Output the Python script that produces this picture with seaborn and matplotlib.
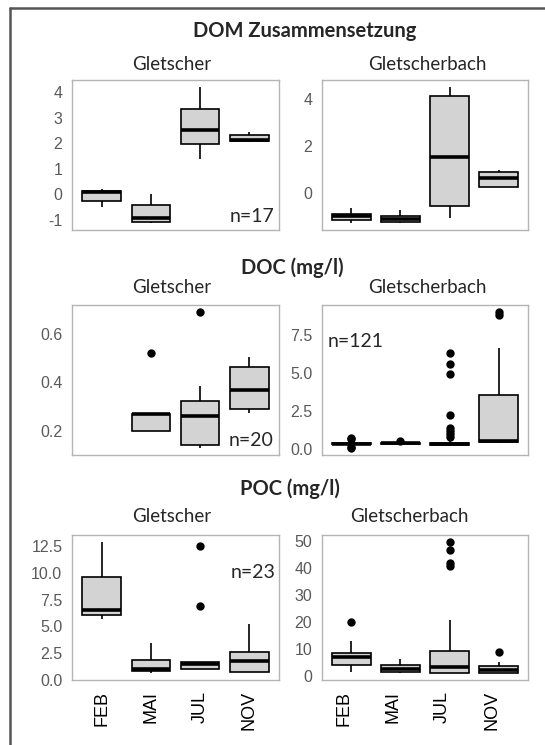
import matplotlib
matplotlib.use("Agg")
import matplotlib.pyplot as plt
import matplotlib.transforms as mtransforms
import seaborn as sns
import pandas as pd

# ---------------- data ----------------
months = ["FEB", "MAI", "JUL", "NOV"]

row_titles = ["DOM Zusammensetzung", "DOC (mg/l)", "POC (mg/l)"]
col_titles = ["Gletscher", "Gletscherbach"]
n_labels = ["n=17", "n=20", "n=121", "n=23"]

dom_gletscher = {
    "FEB": [-0.49, -0.27, 0.07, 0.13, 0.20],
    "MAI": [-1.13, -1.07, -0.92, -0.43, 0.01],
    "JUL": [1.37, 1.95, 2.50, 3.35, 4.20],
    "NOV": [2.05, 2.07, 2.13, 2.31, 2.44],
}
dom_bach = {
    "FEB": [-1.29, -1.19, -1.02, -0.90, -0.68],
    "MAI": [-1.31, -1.27, -1.12, -0.99, -0.76],
    "JUL": [-1.09, -0.57, 1.50, 4.12, 4.52],
    "NOV": [0.23, 0.23, 0.63, 0.89, 0.95],
}
doc_gletscher = {
    "FEB": [],
    "MAI": [0.20, 0.20, 0.27, 0.27, 0.52],
    "JUL": [0.127, 0.135, 0.141, 0.20, 0.259, 0.29, 0.321, 0.384, 0.693],
    "NOV": [0.273, 0.29, 0.367, 0.466, 0.506],
}
doc_bach = {
    "FEB": [0.05, 0.10, 0.20, 0.30, 0.32, 0.34, 0.35, 0.38, 0.40, 0.42, 0.55, 0.65, 0.70],
    "MAI": [0.30, 0.35, 0.40, 0.42, 0.55],
    "JUL": [0.20, 0.21, 0.22, 0.22, 0.23, 0.23, 0.24, 0.24, 0.25, 0.25,
            0.26, 0.27, 0.28, 0.29, 0.30, 0.31, 0.31, 0.32, 0.33,
            0.34, 0.35, 0.36, 0.37, 0.38, 0.39, 0.40, 0.41, 0.42,
            0.60, 0.80, 1.00, 1.20, 1.40, 2.20, 4.90, 5.60, 6.30],
    "NOV": [0.40, 0.42, 0.43, 0.44, 0.50, 0.52, 0.55, 1.50, 2.60, 3.53, 6.60, 8.80, 9.00],
}
poc_gletscher = {
    "FEB": [5.72, 6.02, 6.48, 9.64, 12.90],
    "MAI": [0.69, 0.84, 1.05, 1.90, 3.45],
    "JUL": [0.99, 0.99, 0.99, 1.30, 1.50, 1.60, 1.66, 6.90, 12.44],
    "NOV": [0.75, 0.75, 1.75, 2.65, 5.18],
}
poc_bach = {
    "FEB": [1.6, 3.0, 4.2, 6.0, 7.0, 7.8, 8.4, 13.0, 20.2],
    "MAI": [1.2, 1.6, 2.65, 4.2, 6.3],
    "JUL": [1.0, 1.05, 1.1, 1.15, 1.2, 1.2, 1.5, 2.0, 2.6, 3.0, 3.4,
            4.5, 5.5, 7.0, 8.5, 9.4, 20.7, 40.7, 41.9, 46.7, 49.8],
    "NOV": [1.0, 1.1, 1.2, 1.8, 2.2, 2.9, 3.6, 5.4, 8.8],
}

yticks_list = [
    [-1, 0, 1, 2, 3, 4], [0, 2, 4],
    [0.2, 0.4, 0.6], [0.0, 2.5, 5.0, 7.5],
    [0.0, 2.5, 5.0, 7.5, 10.0, 12.5], [0, 10, 20, 30, 40, 50],
]
ytick_fmt = ["{:.0f}", "{:.0f}", "{:.1f}", "{:.1f}", "{:.1f}", "{:.0f}"]

# ---------------- layout ----------------
W, H = 545, 745
sns.set_theme(style="white")
plt.rcParams["font.family"] = ["Liberation Sans", "DejaVu Sans"]

fig = plt.figure(figsize=(W / 100, H / 100), dpi=100)
fig.patch.set_facecolor("white")


def px_axes(x0, y0, x1, y1):
    return fig.add_axes([x0 / W, 1 - y1 / H, (x1 - x0) / W, (y1 - y0) / H])


def ftext(x, y, s, **kw):
    fig.text(x / W, 1 - y / H, s, **kw)


panel_boxes = [
    (72, 80, 279, 230), (322, 80, 528, 230),
    (72, 305, 279, 455), (322, 305, 528, 455),
    (72, 535, 279, 680), (322, 535, 528, 680),
]
datasets = [dom_gletscher, dom_bach, doc_gletscher, doc_bach, poc_gletscher, poc_bach]

tick_gray = "#5a5a5a"
title_font = ["Lato", "DejaVu Sans"]

for i, (box, d) in enumerate(zip(panel_boxes, datasets)):
    ax = px_axes(*box)
    rows = [(m, v) for m in months for v in d[m]]
    df = pd.DataFrame(rows, columns=["Monat", "Wert"])
    sns.boxplot(
        data=df, x="Monat", y="Wert", order=months, ax=ax,
        color="#d3d3d3", saturation=1, linecolor="black", linewidth=1.2,
        width=0.78, fliersize=5, showcaps=False,
        medianprops=dict(linewidth=2.6, color="black"),
        flierprops=dict(marker="o", markerfacecolor="black",
                        markeredgecolor="black"),
    )
    vals = df["Wert"]
    lo, hi = vals.min(), vals.max()
    pad = (hi - lo) * 0.05
    ax.set_ylim(lo - pad, hi + pad)
    ax.set_xlim(-0.6, 3.6)
    ax.set_xlabel("")
    ax.set_ylabel("")
    yt = yticks_list[i]
    ax.set_yticks(yt)
    ax.set_yticklabels([ytick_fmt[i].format(t) for t in yt], color=tick_gray,
                       fontsize=11.5)
    ax.tick_params(axis="both", length=0)
    ax.tick_params(axis="y", pad=7)
    if i >= 4:
        ax.set_xticks(range(len(months)))
        ax.set_xticklabels(months, rotation=90, fontsize=13, color="black")
        ax.tick_params(axis="x", pad=8)
        if i == 5:
            off = mtransforms.ScaledTranslation(-7 / 100, 0, fig.dpi_scale_trans)
            for lab in ax.get_xticklabels():
                lab.set_transform(lab.get_transform() + off)
    else:
        ax.set_xticks([])
    for sp in ax.spines.values():
        sp.set_color("#b4b4b4")
        sp.set_linewidth(1.0)
    ax.set_facecolor("white")

# titles
ftext(305, 31, row_titles[0], ha="center", va="center", fontsize=14.5,
      fontweight="bold", family=title_font)
ftext(292, 268, row_titles[1], ha="center", va="center", fontsize=14.5,
      fontweight="bold", family=title_font)
ftext(290, 489, row_titles[2], ha="center", va="center", fontsize=14.5,
      fontweight="bold", family=title_font)

sub_pos = [(172, 65, 0), (427, 65, 1), (172, 288, 0), (427, 288, 1),
           (172, 517, 0), (409, 517, 1)]
for x, y, c in sub_pos:
    ftext(x, y, col_titles[c], ha="center", va="center", fontsize=13.5,
          family=title_font)

# n annotations
ftext(274, 217, n_labels[0], ha="right", va="center", fontsize=14, family=title_font)
ftext(274, 440, n_labels[1], ha="right", va="center", fontsize=14, family=title_font)
ftext(328, 342, n_labels[2], ha="left", va="center", fontsize=14, family=title_font)
ftext(275, 573, n_labels[3], ha="right", va="center", fontsize=14, family=title_font)

# outer frame (left and top edges)
fig.add_artist(plt.Line2D([9.5 / W, 9.5 / W], [0, 1 - 8 / H],
                          transform=fig.transFigure, color="#555555", lw=1.8))
fig.add_artist(plt.Line2D([9.5 / W, 1], [1 - 8 / H, 1 - 8 / H],
                          transform=fig.transFigure, color="#555555", lw=1.8))

fig.savefig("out.png", dpi=100, facecolor="white")
